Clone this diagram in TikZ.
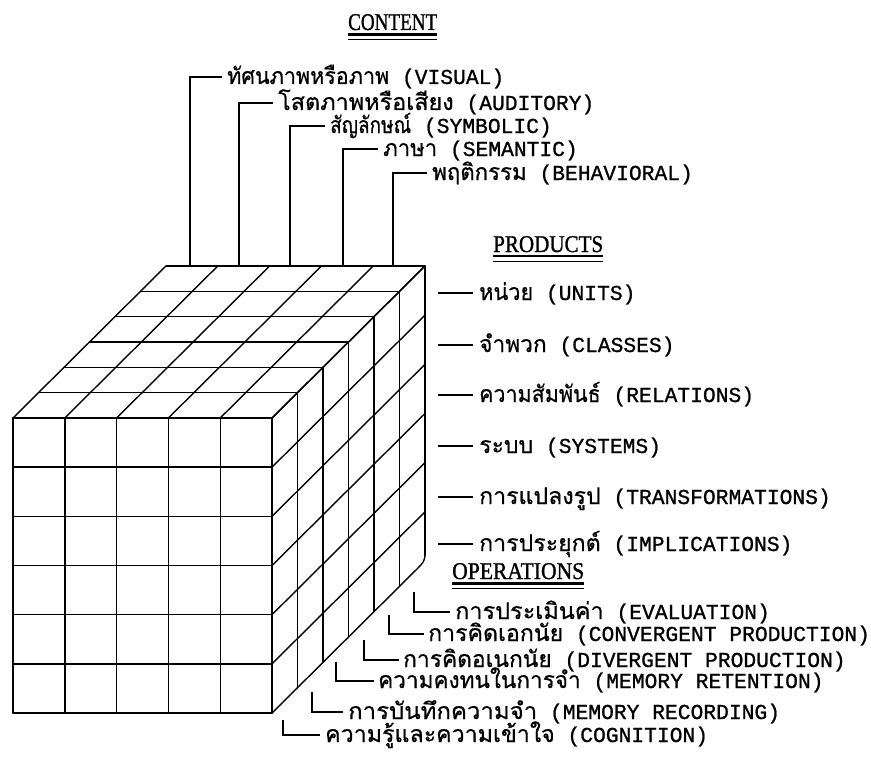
\documentclass[tikz,border=0pt]{standalone}
\usepackage{fontspec}
\usepackage{graphicx}
\setmainfont{Liberation Serif}
\newfontfamily\thaifont[Script=Thai,FakeBold=0.6]{Loma}
\newfontfamily\monofont[FakeBold=0.9]{Liberation Mono}
\newfontfamily\titlefont[FakeBold=1.2]{Liberation Serif}
\newlength\thaiunit
\setlength\thaiunit{13.5pt}
\newcommand\thw[2]{\resizebox{#1\thaiunit}{\height}{\thaifont\fontsize{23}{25}\selectfont #2}}
\newcommand\lab[3]{\thw{#1}{#2}{\monofont\ (#3)}}
\newcommand\ttl[2]{\resizebox{#1pt}{\height}{\titlefont\fontsize{24}{26}\selectfont #2}}
\begin{document}
\begin{tikzpicture}[x=1pt,y=-1pt,
  cube/.style={line width=1.4pt, line cap=round, line join=round},
  conn/.style={line width=1.4pt},
  lbl/.style={anchor=base west, inner sep=0pt, font=\monofont\fontsize{21.3}{25}\selectfont},
  ttlnode/.style={anchor=base west, inner sep=0pt},
  ulthick/.style={line width=2.2pt},
  ulthin/.style={line width=1.2pt}]
\useasboundingbox (0,0) rectangle (871,760);
\fill[white] (0,0) rectangle (871,760);
% ---------- cube ----------
\foreach \i in {0,...,5} \draw[cube] ({13+51.8*\i},418) -- ({13+51.8*\i},713);
\foreach \j in {0,...,6} \draw[cube] (13,{418+49.1667*\j}) -- (272,{418+49.1667*\j});
\foreach \i in {0,...,5} \draw[cube] ({13+51.8*\i},418) -- ++(153,-152);
\foreach \k in {1,...,6} \draw[cube] ({13+25.5*\k},{418-25.333*\k}) -- ++(259,0);
\foreach \j in {0,...,5} \draw[cube] (272,{418+49.1667*\j}) -- ++(153,-152);
\draw[cube] (272,713) -- (418,568) to[out=45,in=-90] (425,555);
\foreach \k in {1,...,5} \draw[cube] ({272+25.5*\k},{418-25.333*\k}) -- ++(0,295);
\draw[cube] (425,266) -- (425,555);
% ---------- titles ----------
\node[ttlnode] (tcontent) at (348,30) {\ttl{89}{CONTENT}};
\draw[ulthick] (348,34.5) -- (437,34.5);
\draw[ulthin] (348,39.5) -- (437,39.5);
\node[ttlnode] (tproducts) at (493,252) {\ttl{110}{PRODUCTS}};
\draw[ulthick] (493,256) -- (603,256);
\draw[ulthin] (493,261.5) -- (603,261.5);
\node[ttlnode] (toperations) at (452,579) {\ttl{132}{OPERATIONS}};
\draw[ulthick] (452,583.5) -- (584,583.5);
\draw[ulthin] (452,588.5) -- (584,588.5);
% ---------- content ----------
\coordinate (c1) at (190,266); \coordinate (c1e) at (222,77);
\coordinate (c2) at (239,266); \coordinate (c2e) at (273,103);
\coordinate (c3) at (290,266); \coordinate (c3e) at (325,126);
\coordinate (c4) at (343,266); \coordinate (c4e) at (378,149);
\coordinate (c5) at (393,266); \coordinate (c5e) at (427,173);
\node[lbl] (l1) at (227,84) {\lab{12}{ทัศนภาพหรือภาพ}{VISUAL}};
\node[lbl] (l2) at (278,110) {\lab{13}{โสตภาพหรือเสียง}{AUDITORY}};
\node[lbl] (l3) at (330,133) {\lab{6}{สัญลักษณ์}{SYMBOLIC}};
\node[lbl] (l4) at (383,156) {\lab{4}{ภาษา}{SEMANTIC}};
\node[lbl] (l5) at (432,180) {\lab{7}{พฤติกรรม}{BEHAVIORAL}};
\foreach \n in {1,...,5} \draw[conn] (c\n) |- (c\n e);
% ---------- products ----------
\foreach \n/\y in {1/293,2/345,3/395,4/446,5/497,6/544}{
  \coordinate (p\n s) at (438,\y); \coordinate (p\n e) at (473,\y);
  \draw[conn] (p\n s) -- (p\n e);}
\node[lbl] (m1) at (479,300) {\lab{4}{หน่วย}{UNITS}};
\node[lbl] (m2) at (479,352) {\lab{5}{จำพวก}{CLASSES}};
\node[lbl] (m3) at (479,402) {\lab{9}{ความสัมพันธ์}{RELATIONS}};
\node[lbl] (m4) at (479,453) {\lab{4}{ระบบ}{SYSTEMS}};
\node[lbl] (m5) at (479,504) {\lab{9}{การแปลงรูป}{TRANSFORMATIONS}};
\node[lbl] (m6) at (479,551) {\lab{9}{การประยุกต์}{IMPLICATIONS}};
% ---------- operations ----------
\coordinate (o1t) at (414,592); \coordinate (o1e) at (450,612);
\coordinate (o2t) at (389,615); \coordinate (o2e) at (424,634);
\coordinate (o3t) at (364,640); \coordinate (o3e) at (399,660);
\coordinate (o4t) at (336,662); \coordinate (o4e) at (374,681);
\coordinate (o5t) at (312,692); \coordinate (o5e) at (343,712);
\coordinate (o6t) at (283,720); \coordinate (o6e) at (320,735);
\foreach \n in {1,...,6} \draw[conn] (o\n t) |- (o\n e);
\node[lbl] (q1) at (455,619) {\lab{11}{การประเมินค่า}{EVALUATION}};
\node[lbl] (q2) at (428,641) {\lab{10}{การคิดเอกนัย}{CONVERGENT PRODUCTION}};
\node[lbl] (q3) at (403,667) {\lab{11}{การคิดอเนกนัย}{DIVERGENT PRODUCTION}};
\node[lbl] (q4) at (378,688) {\lab{15}{ความคงทนในการจำ}{MEMORY RETENTION}};
\node[lbl] (q5) at (348,719) {\lab{14}{การบันทึกความจำ}{MEMORY RECORDING}};
\node[lbl] (q6) at (325,742) {\lab{17}{ความรู้และความเข้าใจ}{COGNITION}};
\end{tikzpicture}
\end{document}
